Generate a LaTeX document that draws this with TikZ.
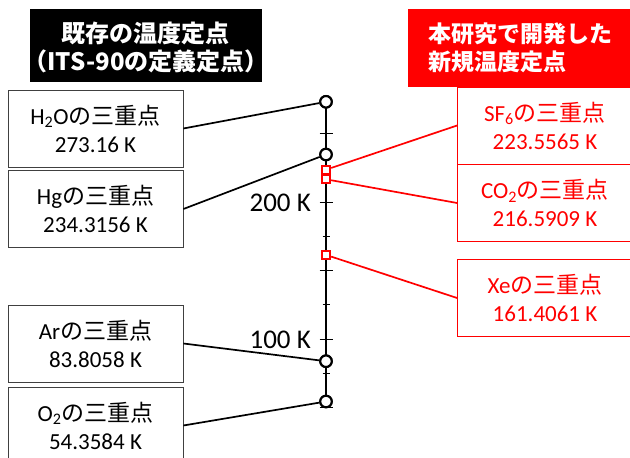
\documentclass[tikz,border=0pt]{standalone}
\usepackage{fontspec}
\setmainfont{Carlito}
\newfontfamily\cjk{Noto Sans CJK JP}
\begin{document}
\begin{tikzpicture}[x=1pt,y=-1pt,
  lbox/.style={draw=black!75, line width=0.8pt, minimum width=175pt, minimum height=77pt,
    inner sep=0pt, align=center, font=\fontsize{23}{28}\selectfont},
  rbox/.style={lbox, draw=red, text=red},
  fp/.style={circle, draw=black, line width=2.1pt, fill=white, minimum size=11.5pt, inner sep=0pt},
  np/.style={rectangle, draw=red, line width=1.9pt, fill=white, minimum width=8.5pt, minimum height=7.8pt, inner sep=0pt},
  conn/.style={line width=1.7pt},
  rconn/.style={conn, red},
  tickl/.style={font=\fontsize{27}{30}\selectfont, anchor=east, inner sep=0pt},
  hdr/.style={align=center, text=white, inner sep=0pt, font=\cjk\bfseries\fontsize{24}{28}\selectfont}]
\useasboundingbox (0,0) rectangle (630,458);
\def\ax{326}
% headers
\fill[black] (30,9) rectangle (262,82);
\node[hdr] (h1) at (146,47) {既存の温度定点\\（ITS-90の定義定点）};
\fill[red] (408,9) rectangle (640,87);
\node[hdr, align=left, anchor=west, font=\cjk\bfseries\fontsize{23}{28}\selectfont] (h2) at (428,48) {本研究で開発した\\新規温度定点};
% axis
\draw[line width=1.5pt] (\ax,101.8) -- (\ax,401.5);
\foreach \t in {50,100,150,200,250}
  \draw[line width=1pt] ({\ax-6.5},{202+(200-\t)*1.37}) -- ({\ax+6.5},{202+(200-\t)*1.37});
\foreach \t in {75,125,175,225,275}
  \draw[line width=1pt] ({\ax-3.5},{202+(200-\t)*1.37}) -- ({\ax+3.5},{202+(200-\t)*1.37});
\node[tickl] (t200) at (311,203) {200 K};
\node[tickl] (t100) at (311,340) {100 K};
% fixed points
\node[fp] (ph2o) at (\ax,101.8) {};
\node[fp] (phg) at (\ax,154.5) {};
\node[fp] (par) at (\ax,361.2) {};
\node[fp] (po2) at (\ax,401.5) {};
\node[np] (psf6) at (\ax,169.7) {};
\node[np] (pco2) at (\ax,179.3) {};
\node[np] (pxe) at (\ax,254.9) {};
% left boxes
\node[lbox] (bh2o) at (95.5,128.5) {H\textsubscript{2}O{\cjk の三重点}\\273.16 K};
\node[lbox] (bhg) at (95.5,209) {Hg{\cjk の三重点}\\234.3156 K};
\node[lbox] (bar) at (95.5,343.5) {Ar{\cjk の三重点}\\83.8058 K};
\node[lbox] (bo2) at (95.5,425.5) {O\textsubscript{2}{\cjk の三重点}\\54.3584 K};
% right boxes
\node[rbox] (bsf6) at (545,125.5) {SF\textsubscript{6}{\cjk の三重点}\\223.5565 K};
\node[rbox] (bco2) at (545,203) {CO\textsubscript{2}{\cjk の三重点}\\216.5909 K};
\node[rbox] (bxe) at (545,298) {Xe{\cjk の三重点}\\161.4061 K};
% connectors
\draw[conn] (bh2o.east) -- (ph2o);
\draw[conn] (bhg.east) -- (phg);
\draw[conn] (bar.east) -- (par);
\draw[conn] (bo2.east) -- (po2);
\draw[rconn] (psf6) -- (bsf6.west);
\draw[rconn] (pco2) -- (bco2.west);
\draw[rconn] (pxe) -- (bxe.west);
% redraw points on top
\node[fp] at (\ax,101.8) {};
\node[fp] at (\ax,154.5) {};
\node[fp] at (\ax,361.2) {};
\node[fp] at (\ax,401.5) {};
\node[np] at (\ax,169.7) {};
\node[np] at (\ax,179.3) {};
\node[np] at (\ax,254.9) {};
\end{tikzpicture}
\end{document}
